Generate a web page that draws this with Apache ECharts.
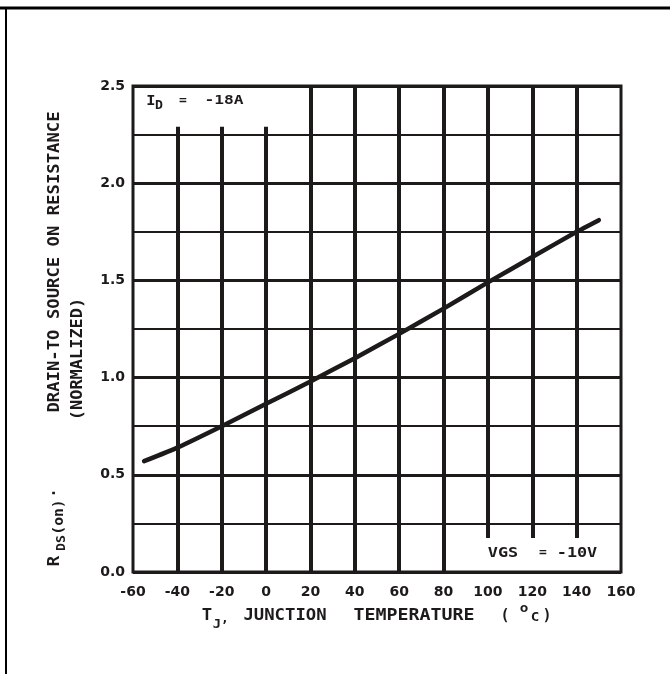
<!DOCTYPE html>
<html><head><meta charset="utf-8">
<script src="https://cdn.jsdelivr.net/npm/echarts@6/dist/echarts.min.js"></script>
<style>html,body{margin:0;padding:0;background:#fff}#c{width:670px;height:674px}</style>
</head><body><div id="c"></div>
<script>
// Curve data
const tempC = [-55, -40, -20, 0, 20, 40, 60, 80, 100, 120, 140, 150];
const rdsNorm = [0.57, 0.64, 0.75, 0.865, 0.98, 1.1, 1.225, 1.355, 1.49, 1.62, 1.75, 1.81];
// Vertical grid lines (x) with their extents (some are shortened around the labels)
const gridX = [-40, -20, 0, 20, 40, 60, 80, 100, 120, 140];
const gridBottom = [0, 0, 0, 0, 0, 0, 0, 0.175, 0.175, 0.175];
const gridTop = [2.29, 2.29, 2.29, 2.5, 2.5, 2.5, 2.5, 2.5, 2.5, 2.5];
// Axis ranges / ticks
const xMin = -60, xMax = 160, xStep = 20;
const yMin = 0, yMax = 2.5, yStep = 0.5;

const INK = '#1d1a1a';
const MONO = '"DejaVu Sans Mono", monospace';

const chart = echarts.init(document.getElementById('c'), null, {renderer: 'canvas'});

function txt(x, y, s, size, opts) {
  opts = opts || {};
  return {
    type: 'text', x: x, y: y, rotation: opts.rot || 0,
    scaleX: opts.sx || 1, scaleY: 1, z: 100,
    style: {
      text: s, fill: INK,
      font: 'bold ' + size + 'px ' + MONO,
      textAlign: opts.align || 'center', textVerticalAlign: 'middle'
    }
  };
}

const R = Math.PI / 2;
const graphics = [
  // outer frame (top and left)
  {type: 'line', shape: {x1: 0, y1: 8, x2: 670, y2: 8}, style: {stroke: '#000', lineWidth: 3}},
  {type: 'line', shape: {x1: 6, y1: 8, x2: 6, y2: 674}, style: {stroke: '#000', lineWidth: 2}},
  // x axis title
  txt(207, 616, 'T', 15, {sx: 1.15}),
  txt(217, 625, 'J', 12, {sx: 1.15}),
  txt(225, 619, ',', 13),
  txt(285, 616, 'JUNCTION', 15, {sx: 1.15}),
  txt(414, 616, 'TEMPERATURE', 15, {sx: 1.22}),
  txt(505, 616, '(', 15),
  txt(524, 609, 'o', 13, {sx: 1.1}),
  txt(535, 618, 'C', 13, {sx: 1.1}),
  txt(547, 616, ')', 15),
  // y axis title
  txt(55, 561, 'R', 15, {rot: R, sx: 1.15}),
  txt(62, 543, 'DS', 12, {rot: R, sx: 1.1}),
  txt(59, 517, '(on)', 14, {rot: R, sx: 1.05}),
  txt(55, 493, '·', 15, {rot: R}),
  txt(55, 262, 'DRAIN-TO SOURCE ON RESISTANCE', 15, {rot: R, sx: 1.15}),
  txt(78, 359, '(NORMALIZED)', 15, {rot: R, sx: 1.13}),
  // annotations
  txt(151, 101, 'I', 14, {sx: 1.1}),
  txt(159, 106, 'D', 12, {sx: 1.1}),
  txt(183, 101, '=', 13),
  txt(224, 101, '-18A', 13, {sx: 1.25}),
  txt(503, 553, 'VGS', 14, {sx: 1.2}),
  txt(543, 553, '=', 13),
  txt(577, 553, '-10V', 14, {sx: 1.2})
];

const vLines = gridX.map((x, i) => [{coord: [x, gridBottom[i]]}, {coord: [x, gridTop[i]]}]);

chart.setOption({
  animation: false,
  backgroundColor: '#fff',
  grid: {left: 133, right: 49, top: 86, bottom: 102, show: true, borderColor: INK, borderWidth: 3, backgroundColor: 'transparent'},
  xAxis: {
    type: 'value', min: xMin, max: xMax, interval: xStep,
    axisLine: {show: false}, axisTick: {show: false}, splitLine: {show: false},
    axisLabel: {margin: 13, color: INK, fontFamily: '"DejaVu Sans"', fontWeight: 'bold', fontSize: 14}
  },
  yAxis: {
    type: 'value', min: yMin, max: yMax, interval: yStep,
    axisLine: {show: false}, axisTick: {show: false},
    splitLine: {show: true, lineStyle: {color: INK, width: 3}},
    minorTick: {show: false, splitNumber: 2},
    minorSplitLine: {show: true, lineStyle: {color: INK, width: 2}},
    axisLabel: {margin: 8, color: INK, fontFamily: '"DejaVu Sans"', fontWeight: 'bold', fontSize: 14,
      formatter: v => v.toFixed(1)}
  },
  graphic: graphics,
  series: [{
    type: 'line',
    data: tempC.map((t, i) => [t, rdsNorm[i]]),
    smooth: 0.15, showSymbol: false, symbol: 'none',
    lineStyle: {color: INK, width: 4.5, cap: 'round'},
    z: 5,
    markLine: {
      silent: true, symbol: ['none', 'none'], animation: false,
      label: {show: false},
      lineStyle: {color: INK, width: 4, type: 'solid'},
      data: vLines
    }
  }]
});
</script>
</body></html>
